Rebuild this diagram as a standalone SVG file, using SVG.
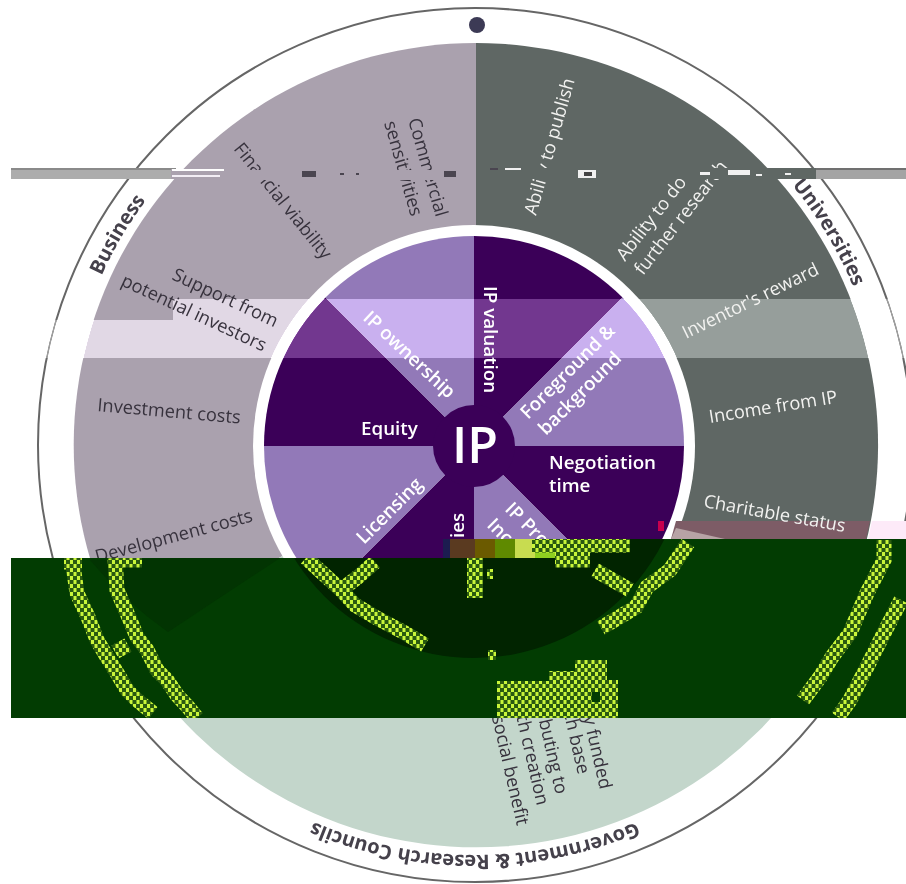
<svg xmlns="http://www.w3.org/2000/svg" xmlns:xlink="http://www.w3.org/1999/xlink" width="906" height="884" viewBox="0 0 906 884">
<style>
.t{font-family:"Open Sans","Liberation Sans",sans-serif;font-size:18.2px}
.d{fill:#37323d}.w{fill:#f2f2f0}
.p{font-family:"Open Sans","Liberation Sans",sans-serif;font-size:18.8px;font-weight:600;fill:#fff}
.r{font-family:"Open Sans","Liberation Sans",sans-serif;font-size:20px;font-weight:700;fill:#45414b;text-anchor:middle}
.dk{fill:#3b0058}.md{fill:#9279b8}
.trk{fill:none;stroke:url(#chk);stroke-linejoin:miter;stroke-linecap:butt}
</style>
<defs>
<pattern id="chk" width="7" height="8" patternUnits="userSpaceOnUse">
<rect width="7" height="8" fill="#2a5a10"/>
<rect width="3" height="4" fill="#c9f53a"/><rect x="3.5" y="4" width="3" height="4" fill="#c9f53a"/>
</pattern>
<path id="ringPath" d="M475 35A410 410 0 1 1 474.9 35"/>
<clipPath id="greenClip"><path d="M11 558H443V539H906V718H11Z"/></clipPath>
</defs>
<rect width="906" height="884" fill="#fff"/>
<circle id="outer-ring" cx="475" cy="445" r="437" fill="#fff" stroke="#666" stroke-width="2"/>
<circle id="pin" cx="477" cy="25" r="8" fill="#3c3a55"/>
<g id="sectors">
<path d="M476 445V43A402 402 0 0 1 851 590Z" fill="#5f6764"/>
<path d="M476 445V43A402 402 0 0 0 127 645Z" fill="#aaa1ae"/>
<path d="M476 445L851 590A402 402 0 0 1 127 645Z" fill="#c3d6cb"/>
</g>
<g id="wheel">
<circle cx="474" cy="446" r="221" fill="#fff"/>
<path class="dk" d="M474 446V236A210 210 0 0 1 622.5 297.5Z"/>
<path class="md" d="M474 446L622.5 297.5A210 210 0 0 1 684 446Z"/>
<path class="dk" d="M474 446H684A210 210 0 0 1 622.5 594.5Z"/>
<path class="md" d="M474 446L622.5 594.5A210 210 0 0 1 474 656Z"/>
<path class="dk" d="M474 446V656A210 210 0 0 1 325.5 594.5Z"/>
<path class="md" d="M474 446L325.5 594.5A210 210 0 0 1 264 446Z"/>
<path class="dk" d="M474 446H264A210 210 0 0 1 325.5 297.5Z"/>
<path class="md" d="M474 446L325.5 297.5A210 210 0 0 1 474 236Z"/>
<circle cx="474" cy="446" r="41" fill="#3b0058"/>
</g>
<g id="light-band" style="mix-blend-mode:plus-lighter">
<path d="M173 299H906V358H11V320H173Z" fill="#373737"/>
</g>
<g id="red-band">
<path d="M676 521H870L866 539H671Z" fill="#7d5c66"/>
<path d="M671 539L676 528L725 539Z" fill="#b7a3a5"/>
<path d="M872 521H906V539H868Z" fill="#fdeaf8"/>
<rect x="658" y="521" width="6" height="10" fill="#c8004e"/>
</g>
<g id="business-labels" class="t d">
<text transform="translate(233 149) rotate(51)">Financial viability</text>
<text transform="translate(408 120) rotate(74)">Commercial</text>
<text transform="translate(384 123) rotate(74)">sensitivities</text>
<text transform="translate(171 279) rotate(25)">Support from</text>
<text transform="translate(120 285) rotate(25)">potential investors</text>
<text transform="translate(97 411) rotate(5)">Investment costs</text>
<text transform="translate(97 563) rotate(-15)">Development costs</text>
</g>
<g id="university-labels" class="t w">
<text transform="translate(536 216) rotate(-74)">Ability to publish</text>
<text transform="translate(625 262) rotate(-52)">Ability to do</text>
<text transform="translate(643 276) rotate(-52)">further research</text>
<text transform="translate(686 339) rotate(-26)">Inventor's reward</text>
<text transform="translate(710 423) rotate(-9)">Income from IP</text>
<text transform="translate(703 507) rotate(10)">Charitable status</text>
</g>
<g id="government-labels" class="t d">
<text text-anchor="end" transform="translate(600 790) rotate(77)">y funded</text>
<text text-anchor="end" transform="translate(578 775) rotate(77)">ch base</text>
<text text-anchor="end" transform="translate(556 795) rotate(77)">buting to</text>
<text text-anchor="end" transform="translate(537 806) rotate(77)">th creation</text>
<text text-anchor="end" transform="translate(517 826) rotate(77)">social benefit</text>
</g>
<g id="wheel-labels" class="p">
<text transform="translate(484 286) rotate(90)">IP valuation</text>
<text transform="translate(362 319) rotate(43)">IP ownership</text>
<text transform="translate(528 420) rotate(-45)">Foreground &amp;</text>
<text transform="translate(546 436) rotate(-45)">background</text>
<text x="361" y="435">Equity</text>
<text x="549" y="469">Negotiation</text>
<text x="549" y="492">time</text>
<text transform="translate(364 545) rotate(-45)">Licensing</text>
<text transform="translate(504 510) rotate(45)">IP Pro</text>
<text transform="translate(486 526) rotate(45)">Inc</text>
<text transform="translate(464 538) rotate(-90)">ies</text>
<text x="452" y="463" style="font-size:50px;font-weight:600">IP</text>
</g>
<g id="ring-labels" class="r">
<text><textPath href="#ringPath" startOffset="2150">Business</textPath></text>
<text><textPath href="#ringPath" startOffset="422">Universities</textPath></text>
<text><textPath href="#ringPath" startOffset="1288">Government &amp; Research Councils</textPath></text>
</g>
<g id="top-stripe">
<rect x="11" y="169" width="160" height="10" fill="#acacac"/>
<rect x="11" y="168" width="165" height="2" fill="#8a8a8a"/>
<rect x="171" y="169" width="55" height="10" fill="#aaa1ae"/>
<rect x="172" y="169" width="52" height="2" fill="#fff"/>
<rect x="172" y="175" width="48" height="2" fill="#f3eef5"/>
<rect x="226" y="170" width="250" height="10" fill="#aaa1ae"/>
<rect x="476" y="168" width="297" height="11" fill="#5f6764"/>
<rect x="773" y="168" width="43" height="11" fill="#5f6764"/>
<rect x="816" y="169" width="90" height="10" fill="#a4a4a4"/>
<rect x="816" y="168" width="90" height="2" fill="#707070"/>
<g fill="#4a4550">
<rect x="302" y="171" width="14" height="6"/><rect x="340" y="173" width="4" height="2"/><rect x="356" y="173" width="3" height="2"/>
<rect x="444" y="171" width="12" height="6"/><rect x="490" y="168" width="8" height="2"/>
</g>
<g fill="#f0f0f0">
<rect x="578" y="170" width="18" height="8"/><rect x="700" y="172" width="10" height="3"/><rect x="728" y="170" width="22" height="5"/><rect x="756" y="174" width="6" height="2"/><rect x="785" y="173" width="6" height="2"/>
<rect x="505" y="168" width="16" height="2"/>
</g>
<rect x="584" y="172" width="8" height="4" fill="#444"/>
</g>
<g id="green-block" clip-path="url(#greenClip)">
<rect x="11" y="539" width="895" height="179" fill="#023c02"/>
<path d="M283 556L168 632A402 402 0 0 1 90 560Z" fill="#023402"/>
<circle cx="474" cy="446" r="212" fill="#012400"/>
<rect x="437" y="539" width="13" height="19" fill="#1c1c50"/>
<rect x="450" y="539" width="25" height="19" fill="#5a3a20"/>
<rect x="475" y="539" width="20" height="19" fill="#6b5a00"/>
<rect x="495" y="539" width="20" height="19" fill="#5f8a00"/>
<rect x="515" y="539" width="20" height="19" fill="#c8dc50"/>
<rect x="535" y="539" width="20" height="19" fill="#8fd020"/>
<g class="trk" stroke-width="15">
<path d="M72 558L77 593L88 617L97 640L107 657L117 673L127 690L137 700L153 713"/>
<path d="M115 558L117 590L127 613L137 637L147 650L157 670L167 680L177 695L188 707L197 718"/>
<path d="M115 652L128 645M64 562H82M123 560H142"/>
<path d="M306 558L341 590L355 605L375 617L405 633L425 645"/>
<path d="M375 562L358 577L341 590"/>
<path d="M601 628L636 607L647 587L670 570L688 543"/>
<path d="M595 570L630 590M555 560H590M532 545H630"/>
<path d="M884 540L884 560L867 593L850 633L832 657L820 677L803 700"/>
<path d="M901 600L884 633L867 667L850 700L838 717"/>
</g>
<rect x="467" y="558" width="16" height="40" fill="url(#chk)"/>
<rect x="487" y="569" width="6" height="10" fill="url(#chk)"/>
<rect x="488" y="650" width="8" height="10" fill="url(#chk)"/>
<path d="M497 681H549V671H575V660H607V680H618V718H497Z" fill="url(#chk)"/>
<rect x="592" y="692" width="8" height="10" fill="#023c02"/>
</g>
</svg>
